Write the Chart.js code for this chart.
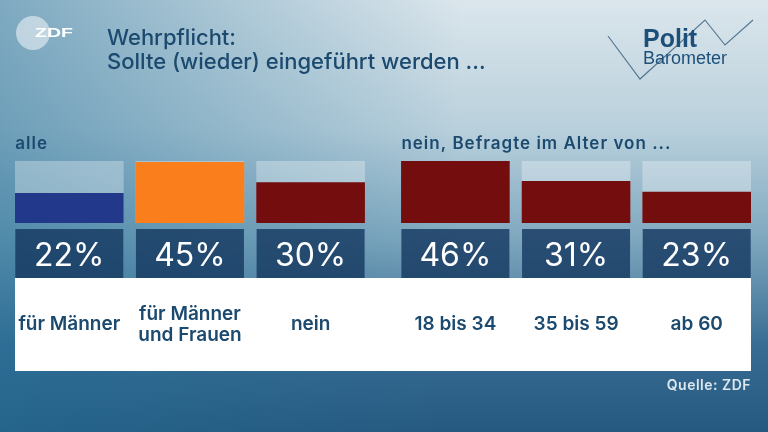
<!DOCTYPE html>
<html lang="de">
<head>
<meta charset="utf-8">
<script src="https://cdn.jsdelivr.net/npm/chart.js@4.4.1/dist/chart.umd.min.js"></script>
<style>
  html, body { margin: 0; padding: 0; background: #275a80; overflow: hidden; }
  canvas { display: block; }
</style>
</head>
<body>
<canvas id="chart" width="768" height="432"></canvas>
<script>
// data
const categories = [['für Männer'], ['für Männer', 'und Frauen'], ['nein'], ['18 bis 34'], ['35 bis 59'], ['ab 60']];
const positions = [0, 1, 2, 3.2, 4.2, 5.2];
const values = [22, 45, 30, 46, 31, 23];
const barColors = ['#22388a', '#fb7e1c', '#730d0e', '#730d0e', '#730d0e', '#730d0e'];
const groupTitles = ['alle', 'nein, Befragte im Alter von ...'];
const groupFirstBar = [0, 3];
const scaleMax = 46;

const textBlue = '#1c4a6f';

const backdrop = {
    id: 'backdrop',
    beforeDraw(chart) {
        const { ctx, width, height, chartArea } = chart;
        ctx.save();
        let g = ctx.createLinearGradient(0, 0, 0, height);
        g.addColorStop(0, '#dbe6ec');
        g.addColorStop(0.3, '#b9d0dc');
        g.addColorStop(0.55, '#7fa8bf');
        g.addColorStop(0.8, '#386c93');
        g.addColorStop(1, '#265980');
        ctx.fillStyle = g;
        ctx.fillRect(0, 0, width, height);
        g = ctx.createLinearGradient(0, 0, width, 0);
        g.addColorStop(0, 'rgba(35,110,150,0.5)');
        g.addColorStop(0.6, 'rgba(35,110,150,0)');
        ctx.fillStyle = g;
        ctx.fillRect(0, 0, width, height);

        // ZDF logo
        ctx.fillStyle = 'rgba(255,255,255,0.5)';
        ctx.beginPath();
        ctx.arc(33, 33, 17, 0, Math.PI * 2);
        ctx.fill();
        ctx.save();
        ctx.translate(35, 37);
        ctx.scale(1.5, 1);
        ctx.fillStyle = '#ffffff';
        ctx.font = 'bold 13px "Liberation Sans"';
        ctx.textBaseline = 'alphabetic';
        ctx.fillText('ZDF', 0, 0);
        ctx.restore();

        // title
        ctx.fillStyle = textBlue;
        ctx.font = '500 22px Inter';
        ctx.textAlign = 'left';
        ctx.fillText('Wehrpflicht:', 107, 45);
        ctx.fillText('Sollte (wieder) eingeführt werden ...', 107, 69);

        // Politbarometer logo
        ctx.strokeStyle = 'rgba(45,85,120,0.75)';
        ctx.lineWidth = 1.2;
        ctx.beginPath();
        ctx.moveTo(608, 36);
        ctx.lineTo(640, 79);
        ctx.lineTo(705, 20);
        ctx.lineTo(725, 45);
        ctx.lineTo(753, 20);
        ctx.stroke();
        ctx.fillStyle = '#1d5079';
        ctx.font = 'bold 25px "Liberation Sans"';
        ctx.fillText('Polit', 643, 47);
        ctx.font = '18px "Liberation Sans"';
        ctx.fillText('Barometer', 643, 64);

        // group titles
        const bars = chart.getDatasetMeta(0).data;
        ctx.fillStyle = textBlue;
        ctx.font = '600 17px Inter';
        ctx.letterSpacing = '1px';
        groupTitles.forEach((t, i) => {
            const b = bars[groupFirstBar[i]];
            ctx.fillText(t, b.x - b.width / 2, 149);
        });

        // white label strip
        ctx.fillStyle = '#ffffff';
        ctx.fillRect(chartArea.left, 278, chartArea.right - chartArea.left, 93);

        // source
        ctx.fillStyle = '#dde7ef';
        ctx.font = '600 14px Inter';
        ctx.letterSpacing = '0.5px';
        ctx.textAlign = 'right';
        ctx.fillText('Quelle: ZDF', chartArea.right, 390);
        ctx.restore();
    },
    afterDatasetsDraw(chart) {
        const { ctx } = chart;
        const bars = chart.getDatasetMeta(0).data;
        ctx.save();
        bars.forEach((b, i) => {
            ctx.fillStyle = 'rgba(20,55,95,0.8)';
            ctx.fillRect(b.x - b.width / 2, 229, b.width, 49);
            ctx.fillStyle = '#ffffff';
            ctx.font = '400 32px Inter';
            ctx.textAlign = 'center';
            ctx.textBaseline = 'alphabetic';
            ctx.fillText(values[i] + '%', b.x, 266);
        });
        ctx.restore();
    }
};

new Chart(document.getElementById('chart'), {
    type: 'bar',
    data: {
        datasets: [{
            data: positions.map((x, i) => ({ x, y: values[i] })),
            backgroundColor: barColors,
            barThickness: 108,
            grouped: false
        }, {
            data: positions.map(x => ({ x, y: scaleMax })),
            backgroundColor: 'rgba(255,255,255,0.3)',
            barThickness: 108,
            grouped: false
        }]
    },
    options: {
        responsive: false,
        animation: false,
        layout: { padding: { top: 161, left: 15, right: 17, bottom: 0 } },
        plugins: {
            legend: { display: false },
            tooltip: { enabled: false }
        },
        scales: {
            x: {
                type: 'linear',
                offset: false,
                min: -0.45,
                max: 5.65,
                grid: { display: false, drawTicks: false },
                border: { display: false },
                afterBuildTicks: s => { s.ticks = positions.map(v => ({ value: v })); },
                afterFit: s => {
                    s.height = 209;
                    s.paddingLeft = 0;
                    s.paddingRight = 0;
                },
                ticks: {
                    autoSkip: false,
                    maxRotation: 0,
                    padding: 91,
                    crossAlign: 'center',
                    color: textBlue,
                    font: { family: 'Inter', size: 19, weight: '600', lineHeight: 1.13 },
                    callback: (v, i) => categories[i]
                }
            },
            y: { display: false, min: 0, max: scaleMax }
        }
    },
    plugins: [backdrop]
});
</script>
</body>
</html>
